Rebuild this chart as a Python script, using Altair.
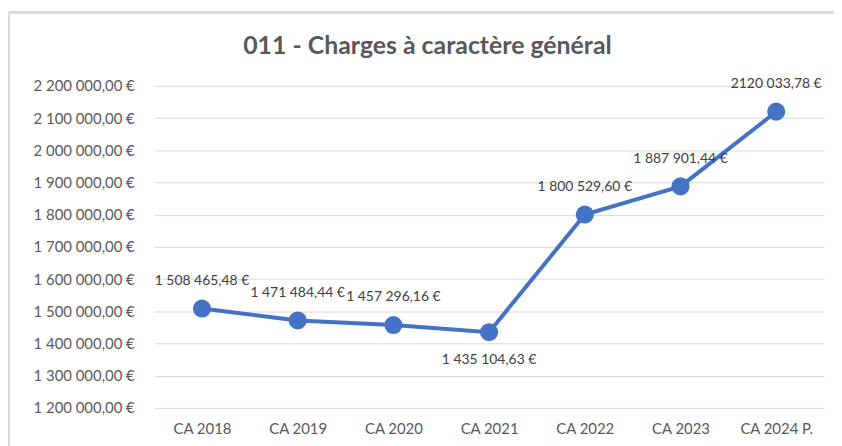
import altair as alt
import pandas as pd

categories = ["CA 2018", "CA 2019", "CA 2020", "CA 2021", "CA 2022", "CA 2023", "CA 2024 P."]
values = [1508465.48, 1471484.44, 1457296.16, 1435104.63, 1800529.60, 1887901.44, 2120033.78]
labels = ["1 508 465,48 €", "1 471 484,44 €", "1 457 296,16 €", "1 435 104,63 €",
          "1 800 529,60 €", "1 887 901,44 €", "2120 033,78 €"]
label_below = [False, False, False, True, False, False, False]
title_text = "011 - Charges à caractère général"

df = pd.DataFrame({"cat": categories, "val": values, "lab": labels, "below": label_below})

FONT = "Lato"
BLUE = "#4472C4"
GREY = "#595959"

x = alt.X("cat:N", sort=categories, title=None,
          axis=alt.Axis(labelAngle=0, labelFontSize=15, labelColor=GREY, labelFont=FONT,
                        ticks=False, domain=False, labelPadding=14, grid=False))
y = alt.Y("val:Q", title=None,
          scale=alt.Scale(domain=[1200000, 2200000], nice=False, zero=False),
          axis=alt.Axis(values=[1200000 + 100000 * i for i in range(11)],
                        labelExpr="replace(replace(format(datum.value, ',.2f'), regexp(',', 'g'), ' '), '.', ',') + ' €'",
                        labelFontSize=15, labelColor=GREY, labelFont=FONT, ticks=False,
                        domain=False, labelPadding=20, gridColor="#d9d9d9", gridWidth=1))

base = alt.Chart(df).encode(x=x, y=y)

line = base.mark_line(color=BLUE, strokeWidth=4)
pts = base.mark_circle(color=BLUE, size=330, opacity=1)
txt_above = base.transform_filter("!datum.below").mark_text(
    dy=-28, fontSize=14, color="#404040", font=FONT).encode(text="lab:N")
txt_below = base.transform_filter("datum.below").mark_text(
    dy=28, fontSize=14, color="#404040", font=FONT).encode(text="lab:N")

# chart frame (decoration)
frame_top = alt.Chart(df).mark_rule(color="#d9d9d9", strokeWidth=2).encode(
    x=alt.value(-146), x2=alt.value(700), y=alt.value(-74))
frame_left = alt.Chart(df).mark_rule(color="#d9d9d9", strokeWidth=2).encode(
    x=alt.value(-146), y=alt.value(-74), y2=alt.value(400))

# chart title as a single text mark
title = alt.Chart(pd.DataFrame({"t": [title_text]})).mark_text(
    fontSize=25, font=FONT, fontWeight="bold", color=GREY, align="center", baseline="middle"
).encode(x=alt.value(275), y=alt.value(-40), text="t:N")

chart = alt.layer(frame_top, frame_left, title, line, pts, txt_above, txt_below).properties(
    width=674, height=324,
    autosize=alt.AutoSizeParams(type="none"),
    padding={"left": 147, "top": 77, "right": 10, "bottom": 40},
).configure(background="white", view=alt.ViewConfig(stroke=None))

chart.save("out.html", embed_options={"renderer": "svg", "actions": False})
